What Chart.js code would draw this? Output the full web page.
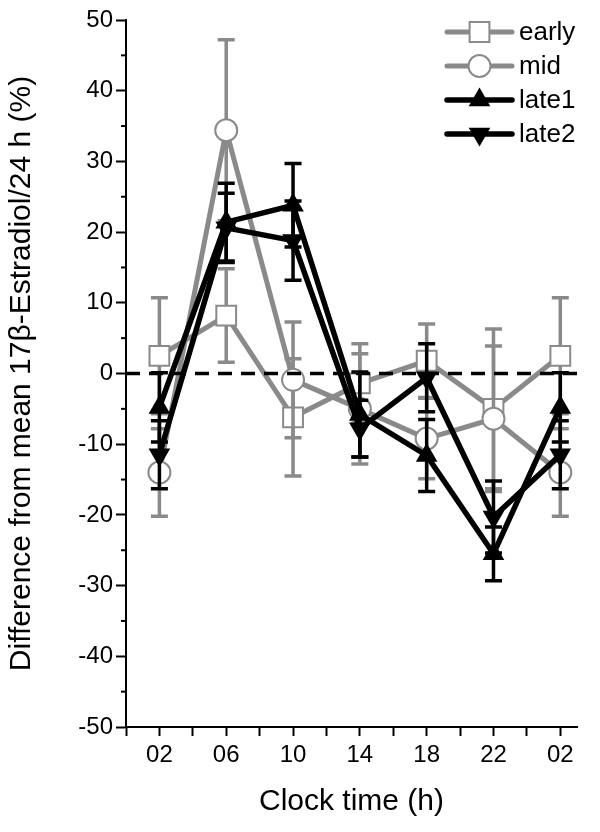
<!DOCTYPE html>
<html>
<head>
<meta charset="utf-8">
<script src="https://cdn.jsdelivr.net/npm/chart.js@4.4.0/dist/chart.umd.min.js"></script>
<style>
  html, body { margin: 0; padding: 0; background: #fff; }
  #wrap { width: 600px; height: 832px; }
</style>
</head>
<body>
<div id="wrap"><canvas id="estradiol" width="600" height="832"></canvas></div>
<script>
// clock time categories (x axis)
var hours = ["02", "06", "10", "14", "18", "22", "02"];

// mean difference (%) and error per group
var early = [2.5, 8.2, -6.2, -1.4, 1.8, -5.0, 2.5];
var earlyErr = [8.2, 6.6, 8.3, 5.6, 5.2, 11.3, 8.2];
var mid = [-14.0, 34.4, -0.9, -5.0, -9.2, -6.4, -14.0];
var midErr = [6.2, 12.8, 8.2, 7.8, 5.7, 10.3, 6.2];
var late1 = [-4.8, 21.4, 23.8, -5.8, -11.6, -25.5, -4.8];
var late1Err = [4.9, 5.5, 5.9, 6.0, 5.1, 3.8, 4.9];
var late2 = [-11.5, 20.6, 18.8, -7.8, -0.6, -20.3, -11.5];
var late2Err = [4.8, 4.9, 5.6, 4.0, 4.8, 5.1, 4.8];

var yTicks = [-50, -40, -30, -20, -10, 0, 10, 20, 30, 40, 50];

var GRAY = "#8a8a8a";
var FONT = "'Liberation Sans', Arial, Helvetica, sans-serif";

var errorsByLabel = {
  early: earlyErr,
  mid: midErr,
  late1: late1Err,
  late2: late2Err
};

// each category sits at an odd position, minor ticks at the even ones
function points(values) {
  return values.map(function (v, i) {
    return { x: 2 * i + 1, y: v };
  });
}

// small marker painter used by the legend
function drawMarker(ctx, style, x, y, r, rot, fill, stroke, bw) {
  ctx.save();
  ctx.translate(x, y);
  ctx.rotate((rot || 0) * Math.PI / 180);
  ctx.beginPath();
  if (style === "rect") {
    var s = Math.SQRT1_2 * r;
    ctx.rect(-s, -s, 2 * s, 2 * s);
  } else if (style === "circle") {
    ctx.arc(0, 0, r, 0, Math.PI * 2);
  } else {
    var a = 0;
    ctx.moveTo(Math.sin(a) * r, -Math.cos(a) * r);
    a += 2 * Math.PI / 3;
    ctx.lineTo(Math.sin(a) * r, -Math.cos(a) * r);
    a += 2 * Math.PI / 3;
    ctx.lineTo(Math.sin(a) * r, -Math.cos(a) * r);
    ctx.closePath();
  }
  ctx.fillStyle = fill;
  ctx.fill();
  if (bw) {
    ctx.lineWidth = bw;
    ctx.strokeStyle = stroke;
    ctx.stroke();
  }
  ctx.restore();
}

var errorBars = {
  id: "errorBars",
  beforeDatasetDraw: function (chart, args) {
    var ds = chart.data.datasets[args.index];
    var errs = errorsByLabel[ds.label];
    if (!errs) return;
    var yScale = chart.scales.y;
    var ctx = chart.ctx;
    ctx.save();
    ctx.strokeStyle = ds.borderColor;
    ctx.lineWidth = 3.5;
    args.meta.data.forEach(function (pt, i) {
      var v = ds.data[i].y;
      var top = yScale.getPixelForValue(v + errs[i]);
      var bot = yScale.getPixelForValue(v - errs[i]);
      ctx.beginPath();
      ctx.moveTo(pt.x, top);
      ctx.lineTo(pt.x, bot);
      ctx.moveTo(pt.x - 8.5, top);
      ctx.lineTo(pt.x + 8.5, top);
      ctx.moveTo(pt.x - 8.5, bot);
      ctx.lineTo(pt.x + 8.5, bot);
      ctx.stroke();
    });
    ctx.restore();
  }
};

var extras = {
  id: "extras",
  afterDraw: function (chart) {
    var ctx = chart.ctx;
    var area = chart.chartArea;
    var yScale = chart.scales.y;

    // minor y ticks
    ctx.save();
    ctx.strokeStyle = "#000";
    ctx.lineWidth = 2;
    for (var i = 0; i < yTicks.length - 1; i++) {
      var py = yScale.getPixelForValue((yTicks[i] + yTicks[i + 1]) / 2);
      ctx.beginPath();
      ctx.moveTo(area.left - 5, py);
      ctx.lineTo(area.left, py);
      ctx.stroke();
    }
    ctx.restore();

    // legend, top right inside the plot
    ctx.save();
    ctx.font = "26px " + FONT;
    ctx.textBaseline = "middle";
    ctx.textAlign = "left";
    var row = 0;
    chart.data.datasets.forEach(function (ds) {
      if (!errorsByLabel[ds.label]) return;
      var cy = area.top + 12 + row * 34;
      var x0 = area.right - 130;
      var x1 = area.right - 65;
      ctx.beginPath();
      ctx.strokeStyle = ds.borderColor;
      ctx.lineWidth = ds.borderWidth;
      ctx.lineCap = "round";
      ctx.moveTo(x0, cy);
      ctx.lineTo(x1, cy);
      ctx.stroke();
      drawMarker(ctx, ds.pointStyle, (x0 + x1) / 2, cy, ds.pointRadius,
        ds.pointRotation, ds.pointBackgroundColor, ds.pointBorderColor, ds.pointBorderWidth);
      ctx.fillStyle = "#000";
      ctx.fillText(ds.label, area.right - 58, cy + 1);
      row++;
    });
    ctx.restore();
  }
};

var config = {
  type: "line",
  data: {
    datasets: [
      {
        label: "early",
        data: points(early),
        borderColor: GRAY,
        borderWidth: 5,
        pointStyle: "rect",
        pointRadius: 14,
        pointBorderWidth: 2,
        pointBorderColor: GRAY,
        pointBackgroundColor: "#fff",
        order: 4
      },
      {
        label: "mid",
        data: points(mid),
        borderColor: GRAY,
        borderWidth: 5,
        pointStyle: "circle",
        pointRadius: 11,
        pointBorderWidth: 2,
        pointBorderColor: GRAY,
        pointBackgroundColor: "#fff",
        order: 3
      },
      {
        label: "late1",
        data: points(late1),
        borderColor: "#000",
        borderWidth: 5.5,
        pointStyle: "triangle",
        pointRadius: 12.5,
        pointBorderWidth: 0,
        pointBorderColor: "#000",
        pointBackgroundColor: "#000",
        order: 1
      },
      {
        label: "late2",
        data: points(late2),
        borderColor: "#000",
        borderWidth: 5.5,
        pointStyle: "triangle",
        pointRotation: 180,
        pointRadius: 12.5,
        pointBorderWidth: 0,
        pointBorderColor: "#000",
        pointBackgroundColor: "#000",
        order: 0
      },
      {
        label: "zero",
        data: [{ x: 0, y: 0 }, { x: 2 * hours.length - 0.5, y: 0 }],
        borderColor: "#000",
        borderWidth: 3.5,
        borderDash: [14, 9],
        pointRadius: 0,
        order: 2
      }
    ]
  },
  options: {
    responsive: false,
    animation: false,
    devicePixelRatio: 1,
    layout: { padding: { top: 20, right: 23, bottom: 0, left: 0 } },
    elements: { line: { tension: 0 } },
    plugins: {
      legend: { display: false },
      tooltip: { enabled: false }
    },
    scales: {
      x: {
        type: "linear",
        min: 0,
        max: 2 * hours.length - 0.5,
        afterBuildTicks: function (scale) {
          var ticks = [];
          for (var i = 0; i < 2 * hours.length; i++) {
            ticks.push({ value: i });
          }
          scale.ticks = ticks;
        },
        afterFit: function (scale) {
          scale.height = 105;
        },
        ticks: {
          stepSize: 1,
          autoSkip: false,
          maxRotation: 0,
          color: "#000",
          padding: 5,
          font: { family: FONT, size: 24 },
          callback: function (v) {
            return v % 2 === 1 ? hours[(v - 1) / 2] : "";
          }
        },
        grid: {
          drawOnChartArea: false,
          drawTicks: true,
          tickLength: 9,
          tickWidth: 2,
          tickColor: "#000"
        },
        border: { display: true, color: "#000", width: 2 },
        title: {
          display: true,
          text: "Clock time (h)",
          color: "#000",
          font: { family: FONT, size: 30 },
          padding: { top: 0, bottom: 12 }
        }
      },
      y: {
        min: -50,
        max: 50,
        afterFit: function (scale) {
          scale.width = 126;
        },
        ticks: {
          stepSize: 10,
          color: "#000",
          padding: 3,
          font: { family: FONT, size: 24 }
        },
        grid: {
          drawOnChartArea: false,
          drawTicks: true,
          tickLength: 10,
          tickWidth: 2,
          tickColor: "#000"
        },
        border: { display: true, color: "#000", width: 2 },
        title: {
          display: true,
          text: "Difference from mean 17β-Estradiol/24 h (%)",
          color: "#000",
          font: { family: FONT, size: 30 },
          padding: { top: 4, bottom: 0 }
        }
      }
    }
  },
  plugins: [errorBars, extras]
};

var ctx = document.getElementById("estradiol").getContext("2d");
var chart = new Chart(ctx, config);
</script>
</body>
</html>
